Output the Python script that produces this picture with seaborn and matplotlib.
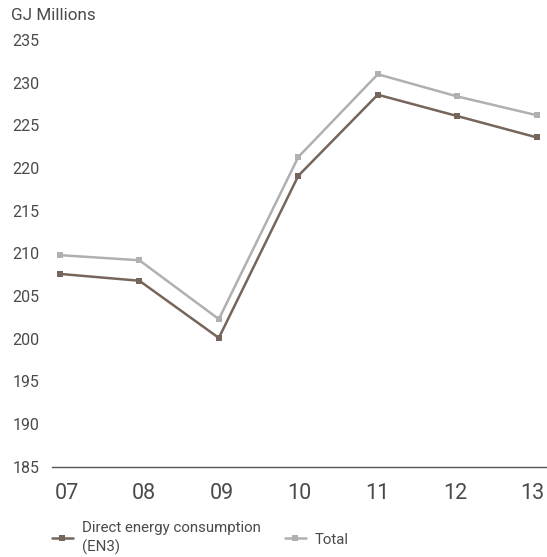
import pandas as pd
import matplotlib.pyplot as plt
import seaborn as sns

years = ['07', '08', '09', '10', '11', '12', '13']
direct = [207.6, 206.8, 200.1, 219.1, 228.6, 226.1, 223.6]
total = [209.8, 209.2, 202.3, 221.3, 231.0, 228.4, 226.2]
series_names = ['Direct energy consumption\n(EN3)', 'Total']
colors = ['#76655a', '#b0b0b3']

df = pd.DataFrame({
    'x': list(range(len(years))) * 2,
    'value': direct + total,
    'series': [series_names[0]] * len(years) + [series_names[1]] * len(years),
})

sns.set_style('white')
plt.rcParams['font.family'] = ['Roboto', 'DejaVu Sans']

fig = plt.figure(figsize=(5.47, 5.57), dpi=100)
ax = fig.add_axes([0.095, 0.162, 0.905, 0.766])

sns.lineplot(data=df, x='x', y='value', hue='series', palette=colors,
             marker='s', markersize=5, markeredgewidth=0, linewidth=1.8,
             ax=ax)

ax.set_xlim(-0.1, 6.13)
ax.set_ylim(185, 235)
ax.set_yticks(range(185, 236, 5))
# labels in the original are spaced a touch tighter than the points
ax.set_xticks([0.085 + i * 0.977 for i in range(len(years))])
ax.set_xticklabels(years)
ax.tick_params(axis='y', labelsize=11.5, labelcolor='#4a4a4a', length=0, pad=9)
ax.tick_params(axis='x', labelsize=15.5, labelcolor='#4a4a4a', length=0, pad=12)
for s in ['top', 'right', 'left']:
    ax.spines[s].set_visible(False)
ax.spines['bottom'].set_color('#555555')
ax.spines['bottom'].set_linewidth(1.0)
ax.set_xlabel('')
ax.set_ylabel('')

fig.text(0.02, 0.985, 'GJ Millions', fontsize=12.3, color='#4a4a4a', va='top', ha='left')

handles, labels = ax.get_legend_handles_labels()
ax.get_legend().remove()
leg = fig.legend(handles, labels, loc='upper left', bbox_to_anchor=(0.095, 0.064),
                 ncol=2, frameon=False, fontsize=10.8, handlelength=1.4,
                 columnspacing=1.6, handletextpad=0.6, borderaxespad=0, borderpad=0,
                 labelcolor='#4a4a4a')
for t in leg.get_texts():
    t.set_linespacing(1.35)

fig.savefig('out.png', dpi=100)
